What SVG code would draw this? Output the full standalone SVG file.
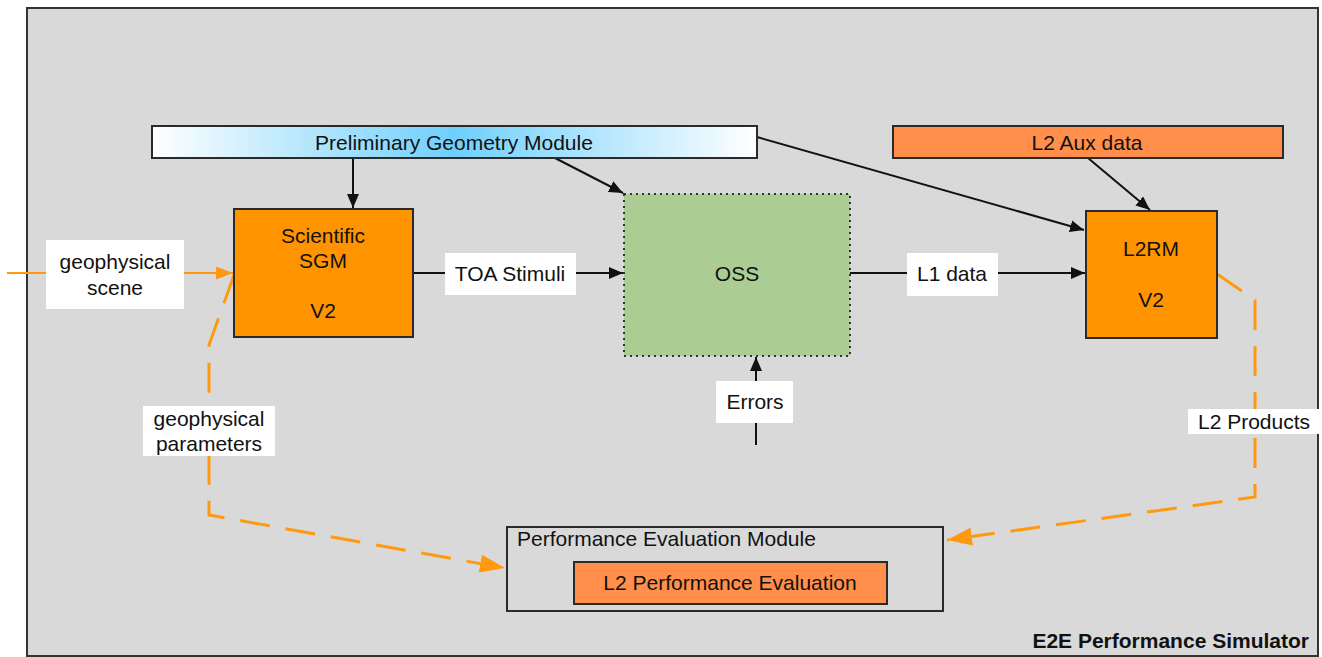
<svg xmlns="http://www.w3.org/2000/svg" width="1322" height="657" viewBox="0 0 1322 657">
<style>
text{font-family:"Liberation Sans",Arial,Helvetica,sans-serif;font-size:21px;fill:#111}
.c{text-anchor:middle}
.box{stroke:#2a2a2a;stroke-width:2}
.lbl{fill:#fff;stroke:none}
.ln{stroke:#111;stroke-width:2;fill:none}
.or{stroke:#ff9a10;stroke-width:3;fill:none}
.dash{stroke-dasharray:30 16}
</style>
<defs>
<linearGradient id="pgm" x1="0" x2="1" y1="0" y2="0">
<stop offset="0" stop-color="#ffffff"/>
<stop offset="0.5" stop-color="#6fcffb"/>
<stop offset="1" stop-color="#ffffff"/>
</linearGradient>
<marker id="ah" viewBox="0 0 14 12" refX="14" refY="6" markerWidth="14" markerHeight="12" markerUnits="userSpaceOnUse" orient="auto">
<path d="M0,0 L14,6 L0,12 z" fill="#111"/>
</marker>
<marker id="oh" viewBox="0 0 25 18" refX="25" refY="9" markerWidth="25" markerHeight="18" markerUnits="userSpaceOnUse" orient="auto">
<path d="M0,0 L25,9 L0,18 z" fill="#ff9a10"/>
</marker>
<marker id="os" viewBox="0 0 17 13" refX="17" refY="6.5" markerWidth="17" markerHeight="13" markerUnits="userSpaceOnUse" orient="auto">
<path d="M0,0 L17,6.5 L0,13 z" fill="#ff9a10"/>
</marker>
</defs>
<g id="simulator">
<rect x="27" y="8" width="1291" height="648" fill="#d9d9d9" stroke="#333" stroke-width="2"/>
<text x="1309" y="648" text-anchor="end" style="font-weight:bold;font-size:21px">E2E Performance Simulator</text>
</g>
<g id="connectors">
<line class="ln" x1="353" y1="158" x2="353" y2="208" marker-end="url(#ah)"/>
<line class="ln" x1="555" y1="158" x2="623" y2="193" marker-end="url(#ah)"/>
<line class="ln" x1="757" y1="137" x2="1084" y2="230" marker-end="url(#ah)"/>
<line class="ln" x1="1088" y1="158" x2="1150" y2="210" marker-end="url(#ah)"/>
<line class="ln" x1="413" y1="273" x2="623" y2="273" marker-end="url(#ah)"/>
<line class="ln" x1="850" y1="273" x2="1085" y2="273" marker-end="url(#ah)"/>
<line class="ln" x1="756" y1="445" x2="756" y2="357" marker-end="url(#ah)"/>
<line class="or" style="stroke-width:2" x1="7" y1="273" x2="233" y2="273" marker-end="url(#os)"/>
<path class="or dash" d="M234,275 L209,345 L209,515 L505,568" marker-end="url(#oh)"/>
<path class="or dash" d="M1217,274 L1255,300 L1255,497 L947,540" marker-end="url(#oh)"/>
<rect class="lbl" x="445" y="253" width="131" height="42"/>
<text class="c" x="510" y="281">TOA Stimuli</text>
<rect class="lbl" x="907" y="253" width="91" height="43"/>
<text class="c" x="952" y="281">L1 data</text>
<rect class="lbl" x="716" y="381" width="77" height="42"/>
<text class="c" x="755" y="409">Errors</text>
<rect class="lbl" x="46" y="240" width="138" height="69"/>
<text class="c" x="115" y="269">geophysical</text>
<text class="c" x="115" y="295">scene</text>
<rect class="lbl" x="143" y="406" width="132" height="50"/>
<text class="c" x="209" y="426">geophysical</text>
<text class="c" x="209" y="451">parameters</text>
<rect class="lbl" x="1188" y="409" width="132" height="25"/>
<text class="c" x="1254" y="429">L2 Products</text>
</g>
<g id="pgm-node">
<rect class="box" x="152" y="126" width="605" height="32" fill="url(#pgm)"/>
<text class="c" x="454" y="150">Preliminary Geometry Module</text>
</g>
<g id="l2aux">
<rect class="box" x="893" y="126" width="390" height="32" fill="#ff8f4a"/>
<text class="c" x="1087" y="150">L2 Aux data</text>
</g>
<g id="sgm">
<rect class="box" x="234" y="209" width="179" height="128" fill="#ff9400"/>
<text class="c" x="323" y="243">Scientific</text>
<text class="c" x="323" y="268">SGM</text>
<text class="c" x="323" y="318">V2</text>
</g>
<g id="oss">
<rect x="624" y="194" width="226" height="162" fill="#abcd93" stroke="#333" stroke-width="2" stroke-dasharray="2 4"/>
<text class="c" x="737" y="281">OSS</text>
</g>
<g id="l2rm">
<rect class="box" x="1086" y="211" width="131" height="127" fill="#ff9400"/>
<text class="c" x="1151" y="256">L2RM</text>
<text class="c" x="1151" y="307">V2</text>
</g>
<g id="pem">
<rect x="507" y="527" width="436" height="84" fill="none" stroke="#2a2a2a" stroke-width="2"/>
<text x="517" y="546">Performance Evaluation Module</text>
</g>
<g id="l2pe">
<rect class="box" x="574" y="562" width="313" height="42" fill="#ff8f4a"/>
<text class="c" x="730" y="590">L2 Performance Evaluation</text>
</g>
</svg>
